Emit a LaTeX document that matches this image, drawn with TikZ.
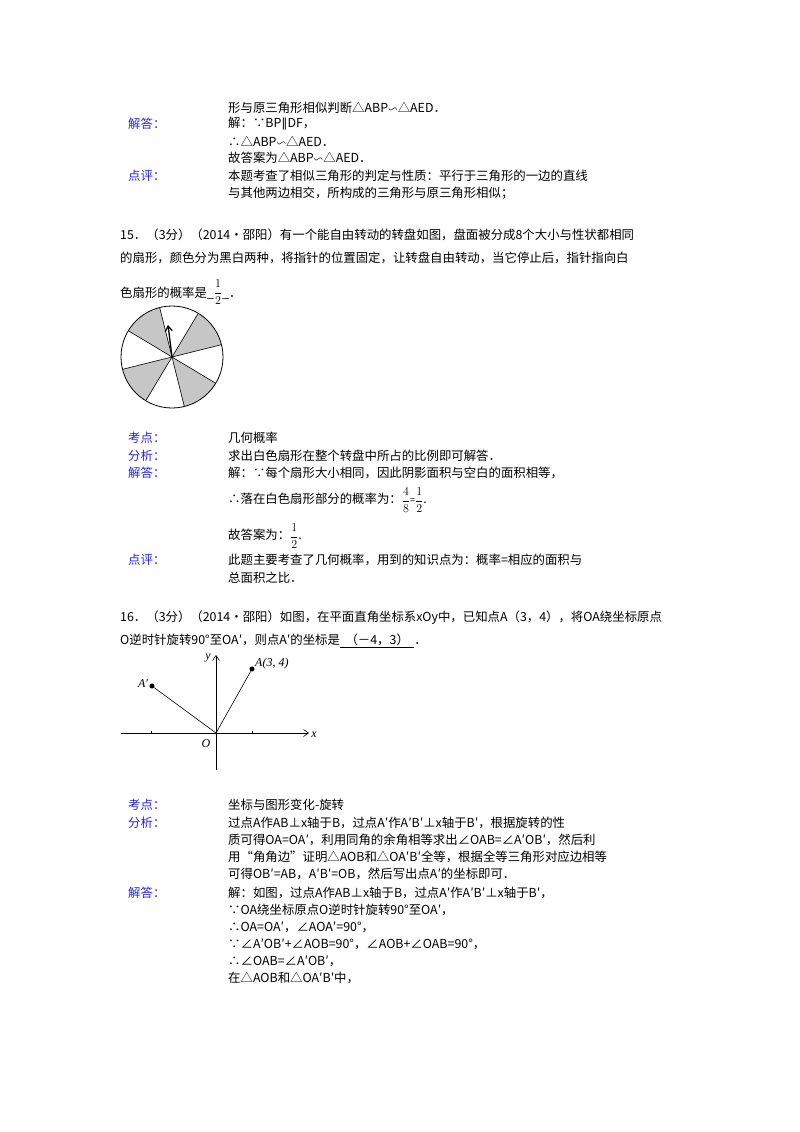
\documentclass[tikz,border=0pt]{standalone}
\usepackage{amssymb}
\usepackage{fontspec}
\usetikzlibrary{arrows.meta}
\setmainfont{Noto Sans CJK SC}
\newfontfamily\djv{DejaVu Sans}
\newfontfamily\tms{Liberation Serif}
\newcommand{\simi}{$\backsim$}
\newcommand{\para}{{\djv ∥}}
\newcommand{\dfr}[2]{$\displaystyle\frac{#1}{#2}$}
\begin{document}
\begin{tikzpicture}[x=1pt,y=-1pt,
  t/.style={anchor=west,inner sep=0pt,font=\fontsize{12.4}{14}\selectfont},
  lab/.style={t,text={rgb,255:red,40;green,40;blue,230}},
  it/.style={inner sep=0pt,font=\tms\itshape\fontsize{12}{12}\selectfont},
  ax/.style={draw,line width=0.6pt,-{Straight Barb[length=5pt,width=7pt]}}]
\useasboundingbox[fill=white] (0,0) rectangle (800,1132);
% top part
\node[t] (l1) at (228,108) {形与原三角形相似判断△ABP\simi△AED．};
\node[lab] (k1) at (128,124) {解答：};
\node[t] (l2) at (228,124) {解：∵BP\para DF，};
\node[t] (l3) at (228,141) {∴△ABP\simi△AED．};
\node[t] (l4) at (228,158) {故答案为△ABP\simi△AED．};
\node[lab] (k2) at (128,176) {点评：};
\node[t] (l5) at (228,176) {本题考查了相似三角形的判定与性质：平行于三角形的一边的直线};
\node[t] (l6) at (228,193) {与其他两边相交，所构成的三角形与原三角形相似；};
% question 15
\node[t] (q1) at (120,235) {15．（3分）（2014•邵阳）有一个能自由转动的转盘如图，盘面被分成8个大小与性状都相同};
\node[t] (q2) at (120,258) {的扇形，颜色分为黑白两种，将指针的位置固定，让转盘自由转动，当它停止后，指针指向白};
\node[t,anchor=base west] (q3) at (120,297) {色扇形的概率是\_\raisebox{1pt}{\fontsize{13}{14}\selectfont\dfr{1}{2}}\_．};
% wheel
\coordinate (c) at (172,357);
\foreach \a in {121,31,-59,-149}{
  \fill[gray!45] (c) -- ++(\a:51) arc[start angle=\a,delta angle=45,radius=51] -- cycle;}
\foreach \a in {166,121,76,31,-14,-59,-104,-149}{
  \draw[line width=0.6pt] (c) -- ++(\a:51);}
\draw[line width=0.8pt] (c) circle[radius=51];
\coordinate (tip) at (168,325);
\draw[line width=1.3pt,-{Straight Barb[length=5pt,width=7pt]}] (c) -- (tip);
% answer 15
\node[lab] (k3) at (128,438) {考点：};
\node[t] at (228,438) {几何概率};
\node[lab] (k4) at (128,456) {分析：};
\node[t] at (228,456) {求出白色扇形在整个转盘中所占的比例即可解答．};
\node[lab] (k5) at (128,473) {解答：};
\node[t] at (228,473) {解：∵每个扇形大小相同，因此阴影面积与空白的面积相等，};
\node[t] at (228,500) {∴落在白色扇形部分的概率为：\dfr{4}{8}{\small =}\dfr{1}{2}.};
\node[t] at (228,536) {故答案为：\dfr{1}{2}.};
\node[lab] (k6) at (128,560) {点评：};
\node[t] at (228,560) {此题主要考查了几何概率，用到的知识点为：概率=相应的面积与};
\node[t] at (228,578) {总面积之比．};
% question 16
\node[t] (p1) at (120,618) {16．（3分）（2014•邵阳）如图，在平面直角坐标系xOy中，已知点A（3，4），将OA绕坐标原点};
\node[t] (p2) at (120,641) {O逆时针旋转90°至OA′，则点A′的坐标是\underline{\ \ （－4，3）\ \ }．};
% figure
\coordinate (O) at (216,733);
\coordinate (xl) at (121,733);
\coordinate (xr) at (309,733);
\coordinate (yb) at (216,770);
\coordinate (yt) at (216,655);
\draw[ax] (xl) -- (xr);
\draw[ax] (yb) -- (yt);
\draw[line width=0.5pt] (151,731) -- (151,733) (252,731) -- (252,733);
\node[circle,fill,inner sep=1.8pt] (A) at (252,669) {};
\node[circle,fill,inner sep=1.8pt] (Ap) at (152,686) {};
\draw[line width=0.6pt] (O) -- (A);
\draw[line width=0.6pt] (O) -- (Ap);
\node[it,anchor=west] at (255,664) {A(3, 4)};
\node[it] at (143,684) {A′};
\node[it] at (206,744) {O};
\node[it] at (314,735) {x};
\node[it] at (208,658) {y};
% answer 16
\node[lab] at (128,805) {考点：};
\node[t] at (228,805) {坐标与图形变化-旋转};
\node[lab] at (128,823) {分析：};
\node[t] at (228,823) {过点A作AB⊥x轴于B，过点A′作A′B′⊥x轴于B′，根据旋转的性};
\node[t] at (228,840) {质可得OA=OA′，利用同角的余角相等求出∠OAB=∠A′OB′，然后利};
\node[t] at (228,857) {用“角角边”证明△AOB和△OA′B′全等，根据全等三角形对应边相等};
\node[t] at (228,874) {可得OB′=AB，A′B′=OB，然后写出点A′的坐标即可．};
\node[lab] at (128,893) {解答：};
\node[t] at (228,893) {解：如图，过点A作AB⊥x轴于B，过点A′作A′B′⊥x轴于B′，};
\node[t] at (228,910) {∵OA绕坐标原点O逆时针旋转90°至OA′，};
\node[t] at (228,927) {∴OA=OA′，∠AOA′=90°，};
\node[t] at (228,944) {∵∠A′OB′+∠AOB=90°，∠AOB+∠OAB=90°，};
\node[t] at (228,961) {∴∠OAB=∠A′OB′，};
\node[t] at (228,978) {在△AOB和△OA′B′中，};
\end{tikzpicture}
\end{document}
